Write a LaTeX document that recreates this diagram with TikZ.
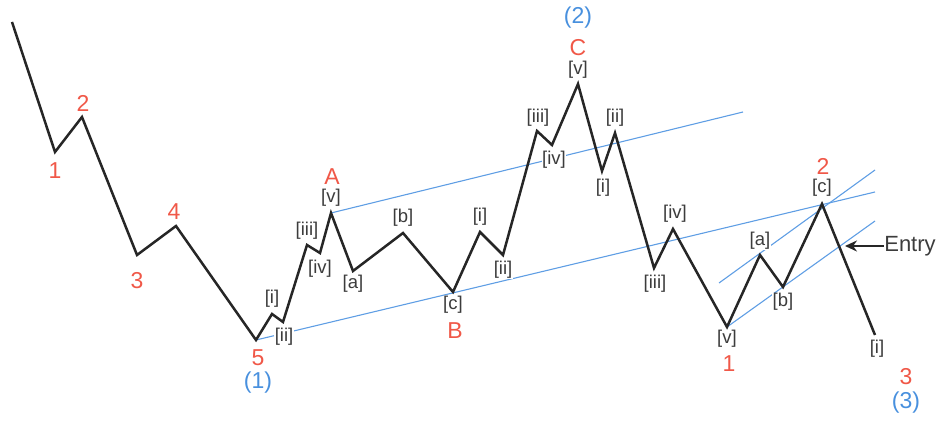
\documentclass[tikz,border=0pt]{standalone}
\usepackage{fontspec}
\setmainfont{Liberation Sans}
\usetikzlibrary{arrows.meta}
\definecolor{wavered}{RGB}{240,88,72}
\definecolor{waveblue}{RGB}{72,144,222}
\definecolor{waveink}{RGB}{38,38,38}
\definecolor{chanblue}{RGB}{95,158,228}
\begin{document}
\begin{tikzpicture}[x=1pt, y=-1pt, >=Stealth,
  every node/.style={font=\fontsize{18.5}{18.5}\selectfont, text=waveink!90, inner sep=0.4pt},
  sub/.style={fill=white},
  deg/.style={text=wavered, font=\fontsize{23}{23}\selectfont},
  big/.style={text=waveblue, font=\fontsize{23}{23}\selectfont},
  chan/.style={chanblue, line width=1.1pt}]
  \useasboundingbox (0,0) rectangle (940,422);
  % wave vertices
  \foreach \n/\x/\y in {0/12/22, 1/55/152, 2/82/117, 3/137/255, 4/176/226,
      5/256/340, 6/272/314, 7/283/322, 8/307/245, 9/320/253, 10/331/213,
      11/353/271, 12/403/233, 13/453/292, 14/480/232, 15/503/255,
      16/537/131, 17/552/145, 18/578/84, 19/602/171, 20/615/133,
      21/654/268, 22/673/229, 23/727/327, 24/760/255, 25/783/287,
      26/822/204, 27/875/335}
    \coordinate (w\n) at (\x,\y);
  \coordinate (lowend) at (875,192);
  \coordinate (upend) at (743,112);
  \coordinate (sa) at (719,283);
  \coordinate (sb) at (875,170);
  \coordinate (sc) at (875,221);
  % channels
  \draw[chan] (w5) -- (lowend);
  \draw[chan] (w10) -- (upend);
  \draw[chan] (sa) -- (sb);
  \draw[chan] (w23) -- (sc);
  % minor degree labels
  \foreach \n/\x/\y/\t in {6/272/299/[i], 7/284/337/[ii], 8/307/231/[iii],
      9/320/269/[iv], 10/331/198/[v], 11/353/284/[a], 12/403/218/[b],
      13/453/305/[c], 14/480/217/[i], 15/503/270/[ii], 16/538/118/[iii],
      17/554/160/[iv], 18/578/70/[v], 19/603/188/[i], 20/615/118/[ii],
      21/655/284/[iii], 22/675/214/[iv], 23/727/339/[v], 24/760/241/[a],
      25/783/302/[b], 26/822/188/[c], 27/877/349/[i]}
    \node[sub] (m\n) at (\x,\y) {\t};
  % price path
  \draw[waveink, line width=2.5pt, line join=miter]
    (w0) \foreach \n in {1,...,27} { -- (w\n) };
  % intermediate degree
  \node[deg] (d1) at (55,171) {1};
  \node[deg] (d2) at (83,103) {2};
  \node[deg] (d3) at (137,281) {3};
  \node[deg] (d4) at (174,212) {4};
  \node[deg] (d5) at (258,358) {5};
  \node[deg] (dA) at (332,177) {A};
  \node[deg] (dB) at (455,331) {B};
  \node[deg] (dC) at (578,48) {C};
  \node[deg] (e1) at (729,364) {1};
  \node[deg] (e2) at (823,166) {2};
  \node[deg] (e3) at (906,377) {3};
  % primary degree
  \node[big] (p1) at (258,383) {(1)};
  \node[big] (p2) at (578,18) {(2)};
  \node[big] (p3) at (906,403) {(3)};
  % entry
  \node[font=\fontsize{22}{22}\selectfont] (entry) at (910,246) {Entry};
  \coordinate (tip) at (845,246);
  \draw[-{Stealth[length=12pt,width=11pt]}, waveink, line width=2pt] (entry.west) -- (tip);
\end{tikzpicture}
\end{document}
